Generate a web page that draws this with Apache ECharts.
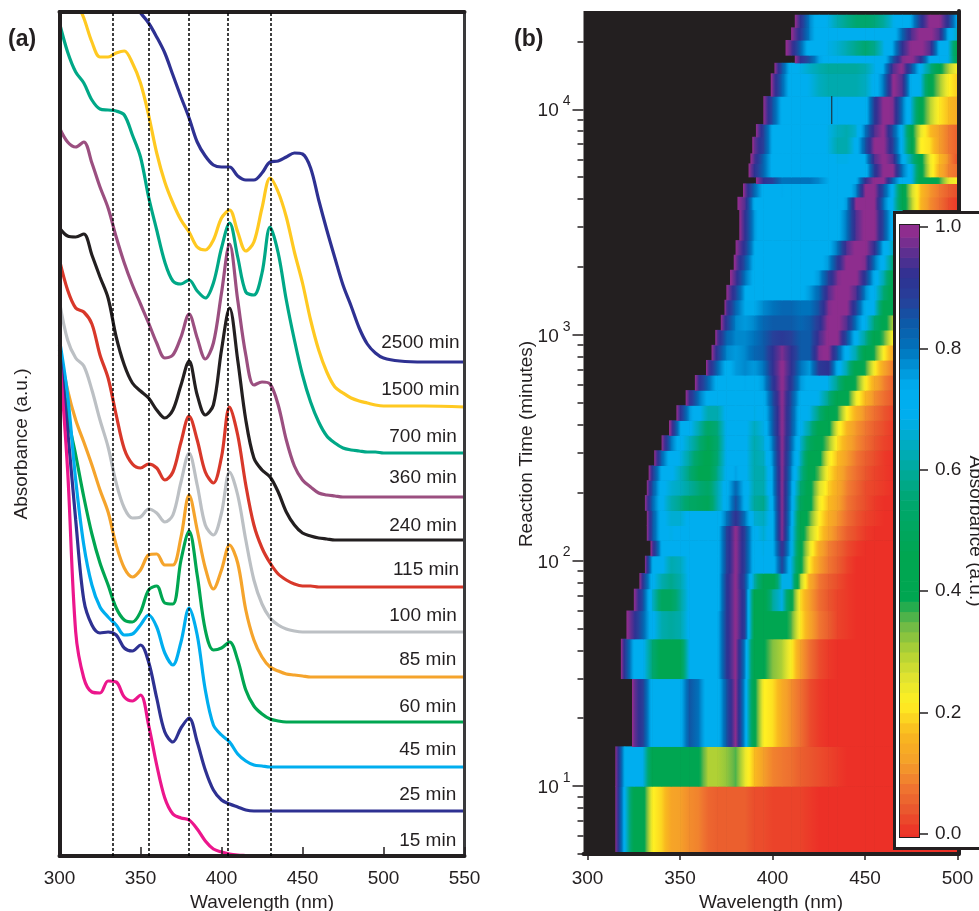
<!DOCTYPE html>
<html><head><meta charset="utf-8">
<style>html,body{margin:0;padding:0;background:#fff;overflow:hidden}#c{width:979px;height:911px}</style>
<script src="https://cdn.jsdelivr.net/npm/echarts@6/dist/echarts.min.js"></script>
</head><body><div id="c"></div>
<script>
// ---------- panel (a): spectra, sampled at these wavelengths ----------
const wl = [300,305,310,315,320,325,330,335,340,345,
  350,355,360,365,370,375,380,385,390,395,
  400,405,410,415,420,425,430,435,440,445,
  450,455,460,465,470,475,480,485,490,495,
  500,510,525,550];
const h2500 = [null,null,null,null,null,null,null,null,null,852,
  843,833,819,803,781,759,738,714,700,691,
  689,689,680,676,676,683,694,695,699,703,
  702,688,656,626,598,571,550,528,512,503,
  498,495,494,494];
const h1500 = [null,null,856,838,814,799,799,803,805,793,
  773,741,703,674,653,636,624,609,606,616,
  638,646,624,605,614,648,678,664,639,604,
  573,536,506,484,469,463,458,455,453,451,
  450,450,450,449];
const h700 = [833,804,784,773,756,747,746,745,741,721,
  699,659,626,594,575,572,576,565,558,573,
  608,633,599,564,561,583,629,603,556,516,
  481,454,434,420,413,408,406,405,404,404,
  403,403,403,403];
const h360 = [728,714,709,714,693,669,648,619,593,571,
  552,533,513,498,501,519,542,518,497,513,
  563,612,556,501,471,474,472,451,416,390,
  376,369,363,361,360,359,359,359,359,359,
  359,359,359,359];
const h240 = [628,620,619,622,601,579,558,519,491,473,
  465,458,446,438,446,471,495,461,441,451,
  506,548,496,436,398,386,379,364,344,331,
  323,320,318,317,316,316,316,316,316,316,
  316,316,316,316];
const h115 = [596,566,548,544,532,501,478,441,407,392,
  388,392,388,376,384,414,440,416,384,373,
  399,449,421,371,331,308,293,282,276,272,
  270,270,269,269,269,269,269,269,269,269,
  269,269,269,269];
const h100 = [554,516,498,490,466,436,409,373,348,338,
  339,347,343,334,341,374,403,371,331,321,
  343,384,361,316,276,252,238,231,227,225,
  224,224,224,224,224,224,224,224,224,224,
  224,224,224,224];
const h85 = [506,466,436,414,391,366,344,311,288,279,
  286,301,302,291,291,319,361,326,288,267,
  286,311,293,246,216,199,189,185,182,181,
  180,179,179,179,179,179,179,179,179,179,
  179,179,179,179];
const h60 = [511,441,401,359,322,293,271,248,236,234,
  244,266,270,253,252,296,325,281,226,206,
  208,214,196,166,150,142,137,135,134,134,
  134,134,134,134,134,134,134,134,134,134,
  134,134,134,134];
const h45 = [516,461,376,311,271,249,239,231,221,222,
  231,241,229,203,191,214,248,221,166,131,
  121,114,102,95,91,90,89,89,89,89,
  89,89,89,89,89,89,89,89,89,89,
  89,89,89,89];
const h25 = [506,426,336,256,231,223,224,221,208,205,
  211,194,158,124,114,128,138,114,86,66,
  56,52,49,46,45,45,45,45,45,45,
  45,45,45,45,45,45,45,45,45,45,
  45,45,45,45];
const h15 = [501,386,224,178,164,163,175,174,159,155,
  161,131,91,58,42,38,36,27,15,7,
  4,2,1,0.5,0,0,0,0,0,0,
  0,0,0,0,0,0,0,0,0,0,
  0,0,0,0];
const curveNames = ['2500 min','1500 min','700 min','360 min','240 min','115 min','100 min','85 min','60 min','45 min','25 min','15 min'];
const curveValues = [h2500,h1500,h700,h360,h240,h115,h100,h85,h60,h45,h25,h15];
const curveColors = ['#2e3192','#ffc921','#00a887','#9b4f80','#231f20','#d8382a','#bcc0c4','#f5a42c','#00a651','#00aeef','#2e3192','#ec168c'];
const labelEndWl = [547.2,547.2,545.6,545.6,545.6,547,545.6,545.2,545.2,545.2,545.2,545.2];
const labelHeight = [513,466,419,378,330,286,240,196,149,106,61,15];
const guideWl = [332.8,355,379.5,404,430.4];

// ---------- panel (b): absorbance map ----------
const xTicksB = [300,350,400,450,500];
const decadeTicks = [10,100,1000,10000];
const minorTicks = [5,6,7,8,9,20,30,40,50,60,70,80,90,200,300,400,500,600,700,800,900,2000,3000,4000,5000,6000,7000,8000,9000,20000];
const timeEdges = [5,10,15,30,45,60,75,88,105,123,143,167,195,227,264,308,359,418,488,569,664,774,903,1052,1227,1431,1666,1944,2266,2630,3597,4092,4691,5020,5754,6375,7551,8600,11440,14430,16070,17390,20280,23070,26240];
const rowStarts = [315,315,324,318,321,325,328,331,334,332,332,331,332,333,336,340,344,348,353,358,364,367,369,372,374,375,377,379,380,382,381,384,391,387,388,389,391,395,399,401,412,407,410,412];
// each row: value at its start wavelength, then at every following multiple of 5 nm
const heatRows = [
[1,.7,.44,.42,.22,.19,.13,.12,.1,.09,.06,.05,.05,.05,.05,.03,.03,.02,.02,.02,.02,.01,0,0,0,0,0,0,0,0,0,0,0,0,0,0,0,0],
[1,.72,.7,.68,.43,.42,.42,.42,.42,.4,.3,.3,.32,.36,.25,.17,.12,.09,.08,.07,.05,.04,.03,.02,.01,0,0,0,0,0,0,0],
[1,.97,.88,.7,.7,.7,.72,.85,.8,.7,.7,.85,1,.75,.42,.22,.2,.14,.1,.07,.03,.01,0,0,0,0,0,0,0,0,0],
[1,.9,.72,.7,.55,.43,.43,.45,.7,.7,.7,.72,.9,1,.78,.43,.4,.33,.3,.22,.12,.07,.03,.01,0,0,0,0,0,0,0,0],
[1,.93,.82,.7,.62,.6,.62,.7,.7,.7,.72,.9,1,.88,.45,.42,.42,.42,.36,.21,.13,.08,.05,.02,.01,0,0,0,0,0,0],
[1,.85,.65,.5,.5,.6,.7,.7,.7,.7,.9,1,.88,.45,.42,.6,.68,.42,.2,.12,.07,.04,.02,.01,0,0,0,0,0,0],
[1,.9,.7,.62,.58,.62,.7,.7,.7,.7,.9,1,.86,.62,.45,.42,.68,.68,.3,.14,.08,.05,.03,.01,0,0,0,0,0,0,0],
[1,.72,.7,.62,.64,.7,.7,.7,.7,.88,1,.88,.7,.7,.7,.88,.68,.42,.21,.12,.08,.05,.02,0,0,0,0,0,0,0],
[1,.95,.72,.7,.7,.7,.7,.7,.7,.88,1,.88,.7,.68,.72,.93,.72,.42,.25,.14,.09,.06,.03,.01,0,0,0,0,0,0],
[1,.85,.7,.68,.7,.7,.7,.7,.7,.88,1,.88,.7,.66,.72,1,.72,.45,.3,.2,.13,.09,.05,.03,.01,0,0,0,0,0],
[1,.85,.7,.66,.66,.7,.7,.7,.7,.8,.92,.8,.66,.64,.72,1,.74,.45,.36,.22,.15,.11,.07,.04,.02,.01,0,0,0,0],
[1,.82,.7,.62,.58,.52,.5,.48,.62,.72,.86,.72,.6,.58,.74,1,.75,.5,.42,.24,.17,.13,.08,.05,.03,.01,0,0,0,0],
[1,.85,.7,.66,.64,.6,.56,.52,.62,.72,.82,.72,.62,.62,.76,1,.76,.55,.42,.27,.19,.14,.09,.06,.03,.02,.01,0,0,0],
[1,.9,.72,.7,.64,.56,.46,.44,.58,.7,.75,.7,.62,.62,.76,1,.78,.6,.43,.35,.21,.15,.1,.07,.04,.02,.01,0,0,0],
[1,.82,.7,.68,.6,.5,.44,.55,.7,.72,.7,.62,.64,.78,1,.8,.64,.43,.42,.24,.17,.12,.08,.05,.03,.01,0,0,0],
[1,.8,.7,.64,.56,.46,.54,.7,.72,.7,.62,.66,.8,1,.82,.66,.5,.43,.33,.2,.14,.1,.07,.04,.02,.01,0],
[1,.97,.74,.7,.62,.52,.56,.7,.72,.7,.64,.68,.84,1,.85,.7,.6,.44,.42,.24,.16,.11,.08,.05,.03,.01,0],
[1,.92,.76,.7,.62,.62,.7,.72,.72,.68,.7,.84,1,.85,.7,.68,.56,.43,.38,.22,.15,.1,.07,.04,.02,.01],
[1,.93,.8,.72,.7,.7,.72,.72,.7,.72,.86,1,.86,.72,.7,.68,.58,.43,.42,.24,.16,.1,.07,.04,.02],
[1,.93,.82,.72,.7,.72,.74,.72,.76,.9,1,.9,.76,.72,.72,.68,.58,.43,.38,.22,.14,.09,.05,.03],
[1,.96,.82,.72,.76,.78,.76,.8,.92,1,.92,.8,.76,.9,.92,.72,.62,.43,.38,.22,.13,.08,.05],
[1,.9,.78,.76,.78,.82,.84,.92,.98,.92,.84,.84,.98,1,.85,.7,.62,.43,.38,.22,.13,.08],
[1,.96,.82,.78,.78,.8,.84,.88,.9,.88,.84,.84,.94,1,1,.86,.7,.6,.43,.36,.22,.13],
[1,.9,.78,.76,.78,.82,.84,.84,.84,.82,.84,.9,1,1,.95,.8,.7,.55,.43,.3,.2],
[1,.95,.82,.74,.74,.78,.8,.82,.82,.8,.8,.86,.98,1,1,.88,.72,.68,.45,.4,.25],
[1,.88,.74,.72,.7,.72,.72,.72,.72,.76,.82,.95,1,1,.95,.78,.7,.55,.42,.3],
[1,.94,.8,.72,.7,.7,.7,.7,.7,.72,.76,.88,.98,1,1,.9,.72,.62,.43,.35],
[1,.98,.85,.72,.7,.7,.7,.7,.7,.7,.72,.76,.9,1,1,.98,.8,.7,.55,.42],
[1,.9,.74,.7,.7,.7,.7,.7,.7,.7,.72,.8,.95,1,1,.92,.72,.64,.43],
[1,.92,.76,.7,.7,.7,.7,.7,.7,.7,.7,.72,.8,.95,1,1,.86,.7,.6],
[1,.95,.72,.7,.7,.7,.7,.7,.7,.7,.7,.7,.76,1,1,1,.8,.68,.45,.3,.16,.1,.07,.03,.01],
[1,.97,.82,.72,.72,.74,.72,.72,.7,.7,.7,.7,.7,.78,1,1,.85,.7,.45,.28,.17,.11,.08,.05,.03],
[1,.92,.88,.8,.8,.8,.8,.78,.74,.72,.7,.72,.92,1,1,.82,.7,.7,.42,.42,.38,.25,.22],
[1,.92,.82,.72,.7,.7,.7,.7,.7,.7,.7,.7,.7,.7,.9,1,1,.8,.7,.43,.25,.15,.09,.07],
[1,.95,.82,.72,.7,.7,.7,.7,.7,.7,.68,.68,.7,.74,.95,1,.95,.72,.6,.42,.24,.17,.1,.03],
[1,.97,.88,.72,.7,.7,.7,.7,.7,.68,.62,.62,.7,.85,1,1,.88,.7,.45,.22,.2,.12,.08,.05],
[1,.88,.72,.7,.7,.7,.7,.7,.68,.64,.62,.66,.8,.95,1,.85,.7,.42,.25,.17,.12,.08,.05],
[1,.85,.72,.7,.7,.7,.7,.7,.7,.7,.7,.7,.9,1,.98,.8,.66,.42,.3,.21,.17,.14],
[1,.97,.82,.7,.7,.68,.64,.62,.62,.62,.62,.64,.7,.8,1,.95,.7,.68,.42,.32,.22,.18],
[1,.85,.7,.68,.65,.62,.6,.6,.6,.6,.62,.68,.75,.95,1,.85,.7,.58,.42,.3,.22],
[1,.92,.85,.75,.72,.7,.7,.7,.7,.7,.7,.85,.98,1,.92,.72,.7,.68,.45],
[1,.95,.82,.7,.7,.68,.66,.62,.58,.55,.58,.68,.75,.92,1,1,.95,.72,.68,.43],
[1,.9,.78,.7,.7,.7,.7,.7,.7,.7,.7,.7,.82,.95,1,1,.95,.72,.64],
[1,.92,.78,.7,.68,.62,.58,.55,.54,.56,.6,.68,.7,.75,.9,1,1,.9,.72]
];
const gapCell = [432,8600,11440];
const colorbarTicks = [0,0.2,0.4,0.6,0.8,1];
const colorStops = [[0,'#ec3027'],[.044,'#ea5a2e'],[.077,'#ef7530'],[.12,'#f5a029'],[.166,'#f9b81f'],[.216,'#fff022'],[.254,'#e5e52e'],[.298,'#b3d234'],[.347,'#6ab847'],[.39,'#00a651'],[.46,'#00a651'],[.55,'#00a76f'],[.6,'#00a99d'],[.65,'#00acc8'],[.687,'#00aeef'],[.736,'#00aeef'],[.77,'#0092d6'],[.8,'#0073bc'],[.847,'#0f57a6'],[.88,'#27419a'],[.92,'#2e3192'],[.96,'#5f2f90'],[.99,'#8e2d8e'],[1,'#8e2d8e']];

// ---------- helpers ----------
const INK = '#231f20', FONT = '"Liberation Sans", Arial, sans-serif', FS = 19;
function rgb(h){return [parseInt(h.slice(1,3),16),parseInt(h.slice(3,5),16),parseInt(h.slice(5,7),16)];}
function colorAt(v){
  v = Math.max(0,Math.min(1,v));
  for(let i=1;i<colorStops.length;i++){
    if(v<=colorStops[i][0]){
      const a=colorStops[i-1],b=colorStops[i],f=(v-a[0])/(b[0]-a[0]||1),p=rgb(a[1]),q=rgb(b[1]);
      return 'rgb('+p.map((c,k)=>Math.round(c+(q[k]-c)*f)).join(',')+')';
    }
  }
  return colorStops[colorStops.length-1][1];
}
const heatCells = [];
heatRows.forEach((vals,r)=>{
  let prevWl = rowStarts[r];
  for(let i=0;i<vals.length-1;i++){
    const nextWl = (Math.floor(prevWl/5)+1)*5;
    heatCells.push([prevWl,nextWl,timeEdges[r],timeEdges[r+1],vals[i],vals[i+1]]);
    prevWl = nextWl;
  }
});
const barCells = [];
for(let i=0;i<62;i++){barCells.push([(i-1)/60,i/60]);}

const chart = echarts.init(document.getElementById('c'),null,{renderer:'canvas'});
const tickLabel = {color:INK,fontFamily:FONT,fontSize:FS};
function sup(v){const e=Math.round(Math.log10(v));return '10{s|'+e+'}';}
const frame = {show:true,onZero:false,lineStyle:{color:INK,width:4}};
const off = {show:false};
const noLine = {show:false,onZero:false};

const lineSeries = curveNames.map((n,k)=>({
  name:n,type:'line',xAxisIndex:0,yAxisIndex:0,smooth:0.33,showSymbol:false,symbol:'none',
  clip:true,z:2,animation:false,silent:true,
  lineStyle:{color:curveColors[k],width:3.2},
  data:wl.map((x,i)=>[x,curveValues[k][i]])
}));

chart.setOption({
  animation:false,
  backgroundColor:'#fff',
  textStyle:{fontFamily:FONT,color:INK},
  title:[
    {text:'(a)',left:3,top:23,textStyle:{fontFamily:FONT,fontSize:23,fontWeight:'bold',color:INK}},
    {text:'(b)',left:509,top:23,textStyle:{fontFamily:FONT,fontSize:23,fontWeight:'bold',color:INK}}
  ],
  grid:[
    {left:59.5,top:12,width:405,height:844,outerBoundsMode:'none'},
    {left:583.5,top:11,width:375,height:843,show:true,backgroundColor:INK,borderWidth:0,outerBoundsMode:'none'},
    {left:900,top:225,width:19,height:612,show:true,backgroundColor:'#fff',borderColor:INK,borderWidth:2,z:6,outerBoundsMode:'none'}
  ],
  xAxis:[
    {gridIndex:0,type:'value',min:300,max:550,interval:50,position:'bottom',z:3,
      axisLine:frame,axisTick:{show:true,inside:true,length:9,lineStyle:{color:INK,width:1.5}},
      axisLabel:Object.assign({margin:13},tickLabel),splitLine:off,
      name:'Wavelength (nm)',nameLocation:'middle',nameGap:36,nameTextStyle:tickLabel},
    {gridIndex:0,type:'value',min:300,max:550,position:'top',z:3,axisLine:frame,axisTick:off,axisLabel:off,splitLine:off},
    {gridIndex:1,type:'value',min:297.8,max:500.5,position:'bottom',z:3,
      axisLine:frame,axisTick:{show:true,length:6,customValues:xTicksB,lineStyle:{color:INK,width:1.5}},
      axisLabel:Object.assign({margin:15,customValues:xTicksB},tickLabel),splitLine:off,
      name:'Wavelength (nm)',nameLocation:'middle',nameGap:38,nameTextStyle:tickLabel},
    {gridIndex:1,type:'value',min:297.8,max:500.5,position:'top',z:3,axisLine:noLine,axisTick:off,axisLabel:off,splitLine:off},
    {gridIndex:2,type:'value',min:0,max:1,z:7,axisLine:noLine,axisTick:off,axisLabel:off,splitLine:off}
  ],
  yAxis:[
    {gridIndex:0,type:'value',min:0,max:844,position:'left',z:3,axisLine:frame,axisTick:off,axisLabel:off,splitLine:off},
    {gridIndex:0,type:'value',min:0,max:844,position:'right',z:3,axisLine:{show:true,onZero:false,lineStyle:{color:'#3a3a3c',width:3}},axisTick:off,axisLabel:off,splitLine:off},
    {gridIndex:1,type:'log',min:5,max:27260,position:'left',z:3,axisLine:noLine,
      axisTick:{show:true,length:11,customValues:decadeTicks,lineStyle:{color:INK,width:1.5}},
      axisLabel:Object.assign({margin:13,padding:[4,0,0,0],customValues:decadeTicks,formatter:sup,
        rich:{s:{fontFamily:FONT,fontSize:14,color:INK,padding:[0,0,20,4]}}},tickLabel),splitLine:off},
    {gridIndex:1,type:'log',min:5,max:27260,position:'left',z:3,axisLine:noLine,
      axisTick:{show:true,length:6,customValues:minorTicks,lineStyle:{color:INK,width:1.5}},axisLabel:off,splitLine:off},
    {gridIndex:1,type:'log',min:5,max:27260,position:'right',z:3,axisLine:{show:true,onZero:false,lineStyle:{color:INK,width:4}},axisTick:off,axisLabel:off,splitLine:off},
    {gridIndex:2,type:'value',min:-0.0049,max:1.0033,position:'right',z:7,axisLine:noLine,
      axisTick:{show:true,length:9,customValues:colorbarTicks,lineStyle:{color:INK,width:1.5}},
      axisLabel:Object.assign({margin:16,customValues:colorbarTicks,formatter:v=>v.toFixed(1)},tickLabel),splitLine:off,
      name:'Absorbance (a.u.)',nameLocation:'middle',nameRotate:-90,nameGap:47,nameTextStyle:tickLabel}
  ],
  graphic:[
    {type:'rect',z:4,silent:true,shape:{x:894.5,y:212.5,width:120,height:636},style:{fill:'#fff',stroke:INK,lineWidth:3}},
    {type:'text',z:8,silent:true,x:22,y:444,rotation:Math.PI/2,style:{text:'Absorbance (a.u.)',align:'center',verticalAlign:'middle',fill:INK,font:FS+'px '+FONT}},
    {type:'text',z:8,silent:true,x:527,y:444,rotation:Math.PI/2,style:{text:'Reaction Time (minutes)',align:'center',verticalAlign:'middle',fill:INK,font:FS+'px '+FONT}}
  ],
  series:[
    {name:'map',type:'custom',xAxisIndex:2,yAxisIndex:2,clip:true,z:2,silent:true,animation:false,progressive:0,
      encode:{x:[0,1],y:[2,3]},data:heatCells,
      renderItem:function(params,api){
        const p0=api.coord([api.value(0),api.value(3)]),p1=api.coord([api.value(1),api.value(2)]);
        const v0=api.value(4),v1=api.value(5),stops=[];
        for(let i=0;i<=6;i++){stops.push({offset:i/6,color:colorAt(v0+(v1-v0)*i/6)});}
        return {type:'rect',shape:{x:p0[0],y:p0[1],width:p1[0]-p0[0]+0.6,height:p1[1]-p0[1]+0.6},
          style:{fill:new echarts.graphic.LinearGradient(0,0,1,0,stops)}};
      }},
    {name:'gap',type:'custom',xAxisIndex:2,yAxisIndex:2,clip:true,z:2.5,silent:true,animation:false,
      encode:{x:0,y:[1,2]},data:[gapCell],
      renderItem:function(params,api){
        const a=api.coord([api.value(0),api.value(2)]),b=api.coord([api.value(0),api.value(1)]);
        return {type:'line',shape:{x1:a[0],y1:a[1],x2:b[0],y2:b[1]},style:{stroke:INK,lineWidth:1}};
      }},
    {name:'colorbar',type:'custom',xAxisIndex:4,yAxisIndex:5,clip:true,z:6,silent:true,animation:false,
      encode:{y:[0,1]},data:barCells,
      renderItem:function(params,api){
        const a=api.coord([0,api.value(1)]),b=api.coord([1,api.value(0)]);
        return {type:'rect',shape:{x:a[0],y:a[1],width:b[0]-a[0],height:b[1]-a[1]+0.6},
          style:{fill:colorAt((api.value(0)+api.value(1))/2)}};
      }}
  ].concat(lineSeries).concat([
    {name:'guides',type:'scatter',xAxisIndex:0,yAxisIndex:0,symbol:'none',z:4,silent:true,data:[],
      markLine:{silent:true,symbol:'none',animation:false,z:4,label:{show:false},
        lineStyle:{color:'#000',type:[3,2],width:1.5},
        data:guideWl.map(x=>({xAxis:x}))}},
    {name:'labels',type:'scatter',xAxisIndex:0,yAxisIndex:0,symbol:'circle',symbolSize:1,itemStyle:{color:'transparent',opacity:1},z:5,silent:true,
      data:curveNames.map((n,k)=>[labelEndWl[k],labelHeight[k],n]),
      label:{show:true,position:'left',distance:0,color:INK,opacity:1,fontFamily:FONT,fontSize:FS,formatter:p=>p.value[2]}}
  ])
});
</script></body></html>
